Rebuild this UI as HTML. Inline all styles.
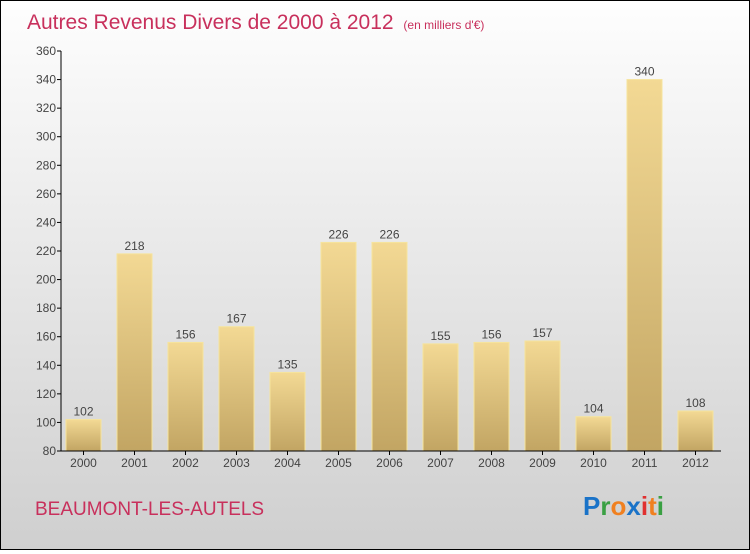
<!DOCTYPE html>
<html><head><meta charset="utf-8"><style>
body{margin:0;width:750px;height:550px;overflow:hidden}
#c{position:relative;width:748px;height:548px;border:1px solid #000;background:linear-gradient(#fefefe,#f0f0f0 30%,#cfcfcf);font-family:"Liberation Sans",sans-serif}
</style></head><body>
<div id="c">
<svg width="748" height="548">
<defs><linearGradient id="g" x1="0" y1="0" x2="0" y2="1"><stop offset="0" stop-color="#f3d994"/><stop offset="1" stop-color="#c2a563"/></linearGradient></defs>
<text x="26" y="28" font-size="21" fill="#c8305c">Autres Revenus Divers de 2000 à 2012 <tspan font-size="12" dx="4">(en milliers d'€)</tspan></text>
<g id="plot"></g>
<text x="34" y="514" font-size="19" fill="#c8305c">BEAUMONT-LES-AUTELS</text>
<text x="582" y="514" font-size="26" font-weight="bold"><tspan fill="#1a73c8">P</tspan><tspan fill="#3aa043">r</tspan><tspan fill="#f08020">o</tspan><tspan fill="#1a73c8">x</tspan><tspan fill="#e03030">i</tspan><tspan fill="#f08020">t</tspan><tspan fill="#3aa043">i</tspan></text>
</svg></div>
<script>
const years=["2000","2001","2002","2003","2004","2005","2006","2007","2008","2009","2010","2011","2012"];
const values=[102,218,156,167,135,226,226,155,156,157,104,340,108];
const ticks=[80,100,120,140,160,180,200,220,240,260,280,300,320,340,360];
const NS="http://www.w3.org/2000/svg",p=document.getElementById('plot');
const y=v=>450-(v-80)*400/280, x=i=>65+i*51;
function mk(t,a,txt){const e=document.createElementNS(NS,t);for(const k in a)e.setAttribute(k,a[k]);if(txt!=null)e.textContent=txt;p.appendChild(e);return e;}
ticks.forEach(t=>{
const l=mk('line',{x1:56,x2:60,y1:y(t),y2:y(t),stroke:'#000'});


const s=mk('text',{x:55,y:y(t)+4,'font-size':12,'text-anchor':'end',fill:'#444'},t);


});
values.forEach((v,i)=>{
const r=mk('rect',{x:x(i),y:y(v),width:35,height:450-y(v),fill:'url(#g)',stroke:'#f6e49c','stroke-width':1});


const t=mk('text',{x:x(i)+17.5,y:y(v)-4,'font-size':12,'text-anchor':'middle',fill:'#444'},v);


const k=mk('line',{x1:x(i)+17.5,x2:x(i)+17.5,y1:450,y2:454,stroke:'#000'});


const xl=mk('text',{x:x(i)+17.5,y:466,'font-size':12,'text-anchor':'middle',fill:'#444'},years[i]);


});
const ya=mk('line',{x1:60,x2:60,y1:50,y2:450,stroke:'#000'});


const xa=mk('line',{x1:60,x2:720,y1:450,y2:450,stroke:'#000'});


</script>
</body></html>
